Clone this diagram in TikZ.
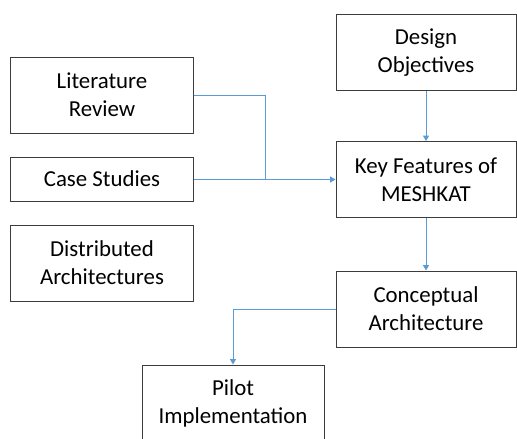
\documentclass[tikz,border=0pt]{standalone}
\usepackage{fontspec}
\setmainfont{Carlito}
\usetikzlibrary{positioning, arrows.meta, calc}

\begin{document}
\begin{tikzpicture}[x=0.03cm, y=-0.03cm]
  \definecolor{linkblue}{RGB}{91,155,213}
  \definecolor{boxgray}{RGB}{60,60,60}
  \tikzset{
    box/.style={draw=boxgray, line width=0.85pt, rectangle, align=center, inner sep=0pt,
      minimum height=2.28cm, font=\fontsize{19.5}{23.8}\selectfont},
    leftbox/.style={box, minimum width=5.46cm},
    rightbox/.style={box, minimum width=5.4cm},
    link/.style={draw=linkblue, line width=0.85pt},
    flow/.style={link, -{Triangle[length=4.5pt, width=5pt]}}
  }
  \useasboundingbox (0,0) rectangle (517,438);

  % inputs on the left
  \node[leftbox] (lit) at (102,95) {Literature\\Review};
  \node[leftbox, minimum height=1.32cm] (case) at (102,179) {Case Studies};
  \node[leftbox] (dist) at (102,263) {Distributed\\Architectures};

  % main column on the right
  \node[rightbox] (design) at (426,52.5) {Design\\Objectives};
  \node[rightbox] (key) at (426,179.5) {Key Features of\\MESHKAT};
  \node[rightbox] (concept) at (426,309) {Conceptual\\Architecture};
  \node[leftbox] (pilot) at (233,403) {Pilot\\Implementation};

  \coordinate (join) at (265,179.5);

  \draw[link] (lit.east) -| (join);
  \draw[flow] (case.east |- key.west) -- (key.west);
  \draw[flow] (design.south) -- (key.north);
  \draw[flow] (key.south) -- (concept.north);
  \draw[flow] (concept.west) -| (pilot.north);
\end{tikzpicture}
\end{document}
